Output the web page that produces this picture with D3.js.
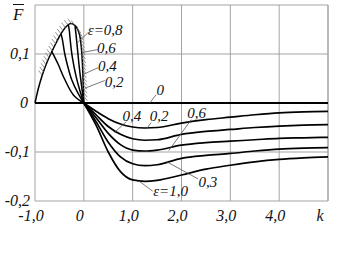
<!DOCTYPE html>
<html>
<head>
<meta charset="utf-8">
<script src="https://cdn.jsdelivr.net/npm/d3@7"></script>
<style>
  body { margin: 0; background: #fff; }
  svg { display: block; }
</style>
</head>
<body>
<div id="chart"></div>
<script>
// ---- data ----
const xTicks = [-1, 0, 1, 2, 3, 4];
const xTickLabels = ["-1,0", "0", "1,0", "2,0", "3,0", "4,0"];
const yTicks = [0.1, 0, -0.1, -0.2];
const yTickLabels = ["0,1", "0", "-0,1", "-0,2"];

// k < 0 : hatched boundary and the eps curves that end on it
const envK = [-1, -0.93, -0.85, -0.75, -0.65, -0.55, -0.45, -0.35, -0.27, -0.19, -0.12, -0.07, -0.04, -0.02, 0];
const envF = [0, 0.03, 0.057, 0.084, 0.106, 0.126, 0.144, 0.157, 0.162, 0.159, 0.149, 0.13, 0.1, 0.06, 0];
const eps02K = [0, -0.21, -0.4, -0.53, -0.66];
const eps02F = [0, 0.016, 0.05, 0.08, 0.106];
const eps04K = [0, -0.12, -0.25, -0.33, -0.39, -0.44, -0.47];
const eps04F = [0, 0.02, 0.048, 0.075, 0.1, 0.13, 0.142];
const eps06K = [0, -0.08, -0.16, -0.23, -0.27, -0.3, -0.32];
const eps06F = [0, 0.025, 0.055, 0.09, 0.12, 0.15, 0.161];
const eps08K = [0, -0.04, -0.09, -0.13, -0.16, -0.18];
const eps08F = [0, 0.03, 0.07, 0.11, 0.14, 0.157];

// k > 0
const kRight = [0, 0.25, 0.5, 0.75, 1, 1.25, 1.5, 2, 2.5, 3, 3.5, 4, 4.5, 5];
const curveA = [0, -0.017, -0.032, -0.043, -0.049, -0.051, -0.05, -0.041, -0.034, -0.029, -0.024, -0.02, -0.018, -0.017];
const curveB = [0, -0.024, -0.048, -0.064, -0.073, -0.076, -0.075, -0.064, -0.058, -0.054, -0.05, -0.047, -0.045, -0.044];
const curveC = [0, -0.03, -0.062, -0.085, -0.096, -0.098, -0.096, -0.086, -0.081, -0.078, -0.075, -0.072, -0.071, -0.07];
const curveD = [0, -0.038, -0.08, -0.11, -0.124, -0.128, -0.126, -0.113, -0.107, -0.103, -0.098, -0.094, -0.092, -0.091];
const curveE = [0, -0.045, -0.1, -0.14, -0.157, -0.16, -0.158, -0.147, -0.135, -0.127, -0.12, -0.115, -0.112, -0.11];

// curve labels: text, label anchor (k,F), leader from / to (k,F)
const notes = [
  { t: "\u03b5=0,8", at: [0.08, 0.139], from: [0.08, 0.143], to: [-0.12, 0.124] },
  { t: "0,6", at: [0.27, 0.103], from: [0.28, 0.109], to: [-0.03, 0.103] },
  { t: "0,4", at: [0.29, 0.065], from: [0.29, 0.072], to: [-0.02, 0.058] },
  { t: "0,2", at: [0.43, 0.032], from: [0.43, 0.046], to: [0.02, 0.03] },
  { t: "0", at: [1.49, 0.017], from: [1.48, 0.017], to: [1.35, 0] },
  { t: "0,4", at: [0.79, -0.036], from: [0.87, -0.038], to: [0.63, -0.06] },
  { t: "0,2", at: [1.35, -0.036], from: [1.38, -0.04], to: [1.28, -0.053] },
  { t: "0,6", at: [2.12, -0.03], from: [2.2, -0.034], to: [1.74, -0.097] },
  { t: "0,3", at: [2.35, -0.171], from: [2.34, -0.155], to: [1.7, -0.12] },
  { t: "\u03b5=1,0", at: [1.42, -0.19], from: [1.41, -0.18], to: [1.14, -0.16] }
];

const width = 347, height = 270;
const svg = d3.select("#chart").append("svg")
  .attr("width", width)
  .attr("height", height)
  .attr("font-family", "'Liberation Serif', 'Times New Roman', serif")
  .attr("font-style", "italic");

const x = d3.scaleLinear().domain([-1, 5]).range([35, 328]);
const y = d3.scaleLinear().domain([-0.2, 0.2]).range([201, 5]);

// grid + frame
const grid = svg.append("g").attr("stroke", "#a3a3a3").attr("stroke-width", 1);
x.ticks(6).concat([5]).forEach(k => {
  grid.append("line").attr("x1", x(k)).attr("x2", x(k)).attr("y1", y(0.2)).attr("y2", y(-0.2));
});
[0.2, 0.1, -0.1, -0.2].forEach(f => {
  grid.append("line").attr("x1", x(-1)).attr("x2", x(5)).attr("y1", y(f)).attr("y2", y(f));
});

// eps = 0 line
svg.append("line")
  .attr("x1", x(-1)).attr("x2", x(5)).attr("y1", y(0)).attr("y2", y(0))
  .attr("stroke", "#000").attr("stroke-width", 2);

// tick labels
svg.append("g").selectAll("text").data(xTicks).enter().append("text")
  .attr("x", d => x(d) - 4).attr("y", 221)
  .attr("text-anchor", "middle").attr("font-size", 16).attr("fill", "#111")
  .text((d, i) => xTickLabels[i]);
svg.append("text").attr("x", x(5) - 8).attr("y", 221)
  .attr("text-anchor", "middle").attr("font-size", 16).attr("fill", "#111").text("k");

svg.append("g").selectAll("text").data(yTicks).enter().append("text")
  .attr("x", d => d === 0 ? 28 : 30).attr("y", d => y(d) + 5)
  .attr("text-anchor", "end").attr("font-size", 16).attr("fill", "#111")
  .text((d, i) => yTickLabels[i]);

// F with a bar
svg.append("text").attr("x", 13).attr("y", 20).attr("font-size", 17).attr("fill", "#111").text("F");
svg.append("line").attr("x1", 13).attr("x2", 24).attr("y1", 4.5).attr("y2", 4.5)
  .attr("stroke", "#111").attr("stroke-width", 1);

// curves
const zip = (ks, fs) => ks.map((k, i) => [k, fs[i]]);
const lineMono = d3.line().x(d => x(d[0])).y(d => y(d[1])).curve(d3.curveMonotoneX);
const lineCR = d3.line().x(d => x(d[0])).y(d => y(d[1])).curve(d3.curveCatmullRom.alpha(0.5));

const env = svg.append("path")
  .datum(zip(envK, envF))
  .attr("d", lineMono)
  .attr("fill", "none").attr("stroke", "#000").attr("stroke-width", 1.5);

[[eps02K, eps02F], [eps04K, eps04F], [eps06K, eps06F], [eps08K, eps08F]].forEach(c => {
  svg.append("path").datum(zip(c[0], c[1])).attr("d", lineCR)
    .attr("fill", "none").attr("stroke", "#000").attr("stroke-width", 1.5);
});

[curveA, curveB, curveC, curveD, curveE].forEach(c => {
  svg.append("path").datum(zip(kRight, c)).attr("d", lineMono)
    .attr("fill", "none").attr("stroke", "#000").attr("stroke-width", 1.7);
});

// hatching along the boundary
const node = env.node();
const total = node.getTotalLength();
const hatch = svg.append("g").attr("stroke", "#777").attr("stroke-width", 0.8);
for (let s = 2; s < total - 2; s += 3.8) {
  const p = node.getPointAtLength(s);
  if (p.y > y(0.05) && p.x < x(-0.5)) continue;
  if (p.y > y(0.01)) continue;
  const a = node.getPointAtLength(s - 1), b = node.getPointAtLength(s + 1);
  const tx = b.x - a.x, ty = b.y - a.y;
  const nx = ty, ny = -tx;               // outward side
  let dx = -0.6, dy = -0.8;               // fixed slant of the ticks
  if (dx * nx + dy * ny < 0) { dx = -dx; dy = -dy; }
  hatch.append("line")
    .attr("x1", p.x).attr("y1", p.y)
    .attr("x2", p.x + dx * 6).attr("y2", p.y + dy * 6);
}

// labels with leader lines
const ann = svg.append("g");
notes.forEach(n => {
  ann.append("line")
    .attr("x1", x(n.from[0])).attr("y1", y(n.from[1]))
    .attr("x2", x(n.to[0])).attr("y2", y(n.to[1]))
    .attr("stroke", "#555").attr("stroke-width", 0.8);
  ann.append("text")
    .attr("x", x(n.at[0])).attr("y", y(n.at[1]))
    .attr("font-size", 15).attr("fill", "#111")
    .text(n.t);
});
</script>
</body>
</html>
